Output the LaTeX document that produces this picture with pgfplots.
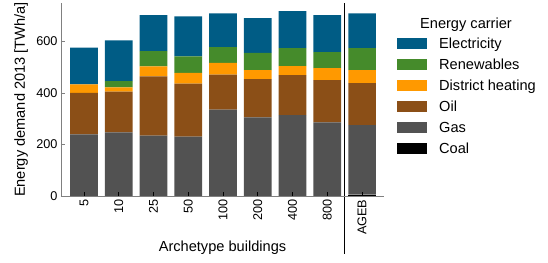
\documentclass[border=0pt]{standalone}
\usepackage{pgfplots}
\pgfplotsset{compat=1.18}
\usepackage{fontspec}
\setmainfont{Liberation Sans}
\definecolor{cElec}{RGB}{0,92,133}
\definecolor{cRen}{RGB}{69,139,43}
\definecolor{cDH}{RGB}{255,153,0}
\definecolor{cOil}{RGB}{139,79,23}
\definecolor{cGas}{RGB}{82,82,82}
\definecolor{cCoal}{RGB}{0,0,0}
\definecolor{axgray}{RGB}{128,128,128}
\begin{document}
\begin{tikzpicture}
\useasboundingbox (-61pt,-66pt) rectangle (487pt,196pt);
\begin{axis}[
  at={(0,0)}, anchor=south west,
  scale only axis, width=323pt, height=193pt,
  ybar stacked, bar width=27.7pt,
  xmin=-0.66, xmax=8.63, ymin=0, ymax=750,
  xtick={0,...,8},
  xticklabels={5,10,25,50,100,200,400,800,AGEB},
  ytick={0,200,400,600},
  xticklabel style={rotate=90, anchor=east},
  tick label style={font=\fontsize{12.7}{14}\selectfont},
  label style={font=\fontsize{14.6}{16}\selectfont},
  /pgf/number format/assume math mode=true,
  axis x line*=bottom, axis y line*=left,
  axis line style={axgray, -, line width=0.8pt},
  tick align=inside, major tick length=4pt,
  xtick style={black, line width=0.8pt},
  ytick style={axgray, line width=0.8pt},
  axis on top,
  clip=false,
  xlabel={Archetype buildings},
  ylabel={Energy demand 2013 [TWh/a]},
  xlabel style={at={(0.5,0)}, yshift=-52pt, anchor=center},
  ylabel style={at={(0,0.5)}, yshift=40pt, anchor=center},
  legend style={at={(1,1)}, anchor=north west, xshift=13pt, yshift=-34.3pt,
    draw=none, fill=none, font=\fontsize{14.6}{16}\selectfont,
    row sep=7.5pt, inner sep=0pt,
    nodes={inner sep=0pt, text height=10.5pt, text depth=3pt},
    /tikz/every odd column/.append style={column sep=12pt}},
  legend cell align=left,
  reverse legend,
  every axis plot post/.append style={draw=none,
    legend image code/.code={\fill[##1,draw=none] (0pt,-4.25pt) rectangle (30pt,6.75pt);}},
]
\addplot[fill=cCoal] coordinates {(0,0) (1,0) (2,0) (3,0) (4,0) (5,0) (6,0) (7,0) (8,5)};
\addplot[fill=cGas] coordinates {(0,239) (1,247) (2,235) (3,231) (4,336) (5,306) (6,314) (7,286) (8,270)};
\addplot[fill=cOil] coordinates {(0,162) (1,159) (2,230) (3,206) (4,136) (5,148) (6,156) (7,164) (8,164)};
\addplot[fill=cDH] coordinates {(0,33) (1,16) (2,39) (3,41) (4,45) (5,35) (6,35) (7,47) (8,50)};
\addplot[fill=cRen] coordinates {(0,0) (1,24) (2,59) (3,65) (4,62) (5,67) (6,70) (7,62) (8,86)};
\addplot[fill=cElec] coordinates {(0,143) (1,159) (2,140) (3,155) (4,131) (5,135) (6,143) (7,144) (8,135)};
\legend{Coal,Gas,Oil,District heating,Renewables,Electricity}
\draw[black, line width=0.8pt] (axis cs:7.5,750) -- ([yshift=-58pt]axis cs:7.5,0);
\node[font=\fontsize{14.6}{16}\selectfont, anchor=center] at ([xshift=82pt,yshift=-22pt]rel axis cs:1,1) {Energy carrier};
\end{axis}
\end{tikzpicture}
\end{document}
